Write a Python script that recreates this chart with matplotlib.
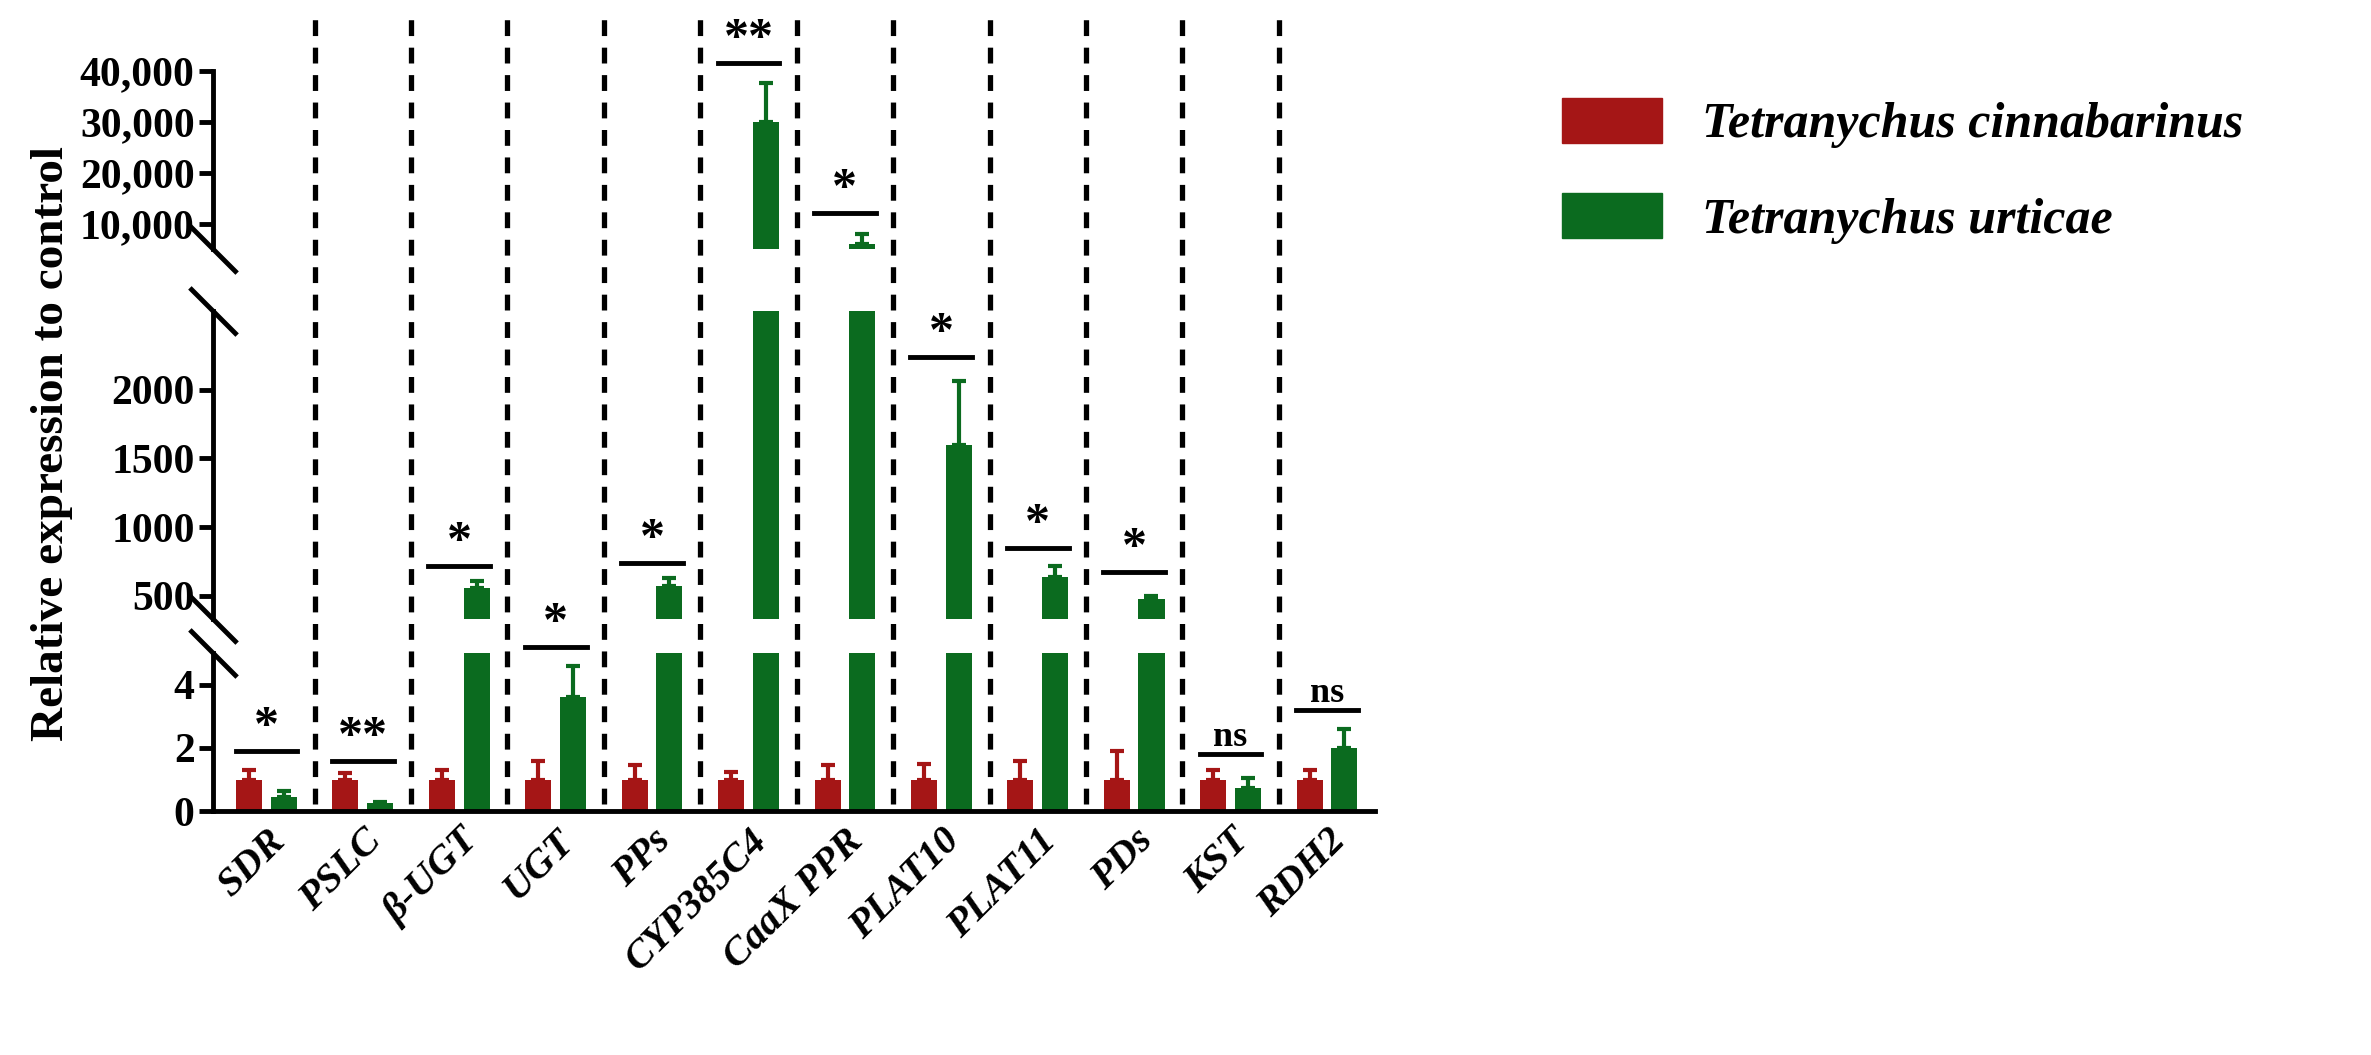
import matplotlib
matplotlib.use("Agg")
import matplotlib.pyplot as plt
import numpy as np
from matplotlib.transforms import blended_transform_factory
from matplotlib.lines import Line2D
from matplotlib.patches import Patch

genes = ["SDR", "PSLC", "β-UGT", "UGT", "PPs", "CYP385C4", "CaaX PPR", "PLAT10", "PLAT11", "PDs", "KST", "RDH2"]
red_vals = [1, 1, 1, 1, 1, 1, 1, 1, 1, 1, 1, 1]
red_err = [0.3, 0.2, 0.3, 0.6, 0.45, 0.25, 0.45, 0.5, 0.6, 0.9, 0.3, 0.3]
green_vals = [0.45, 0.25, 560, 3.6, 570, 30000, 6000, 1600, 640, 480, 0.75, 2.0]
green_err = [0.2, 0.05, 50, 1.0, 60, 7500, 2000, 460, 80, 20, 0.3, 0.6]
# significance: (panel, height, label)
sig = [("b", 1.9, "*"), ("b", 1.6, "**"), ("m", 720, "*"), ("b", 5.2, "*"), ("m", 740, "*"),
       ("t", 41500, "**"), ("t", 12000, "*"), ("m", 2240, "*"), ("m", 850, "*"), ("m", 675, "*"),
       ("b", 1.8, "ns"), ("b", 3.2, "ns")]

RED = "#a51616"
GREEN = "#0b6b1f"
SERIF = ["Liberation Serif", "DejaVu Serif"]
plt.rcParams["font.family"] = SERIF
plt.rcParams["font.weight"] = "bold"

fig = plt.figure(figsize=(23.71, 10.55), dpi=100)
L, W = 0.090, 0.49
axb = fig.add_axes([L, 0.231, W, 0.150])
axm = fig.add_axes([L, 0.413, W, 0.292])
axt = fig.add_axes([L, 0.764, W, 0.169])
axes = {"b": axb, "m": axm, "t": axt}

x = np.arange(1, len(genes) + 1)
off, bw = 0.18, 0.27
for ax in (axb, axm, axt):
    ax.set_facecolor("none")
    ax.bar(x - off, red_vals, bw, color=RED, yerr=[np.zeros(len(x)), red_err],
           error_kw=dict(ecolor=RED, elinewidth=3, capsize=5, capthick=3))
    ax.bar(x + off, green_vals, bw, color=GREEN, yerr=[np.zeros(len(x)), green_err],
           error_kw=dict(ecolor=GREEN, elinewidth=3, capsize=5, capthick=3))
    ax.set_xlim(0.45, len(genes) + 0.5)
    for s in ("top", "right"):
        ax.spines[s].set_visible(False)
    ax.spines["left"].set_linewidth(3.5)
    ax.spines["bottom"].set_linewidth(3.5)
    ax.tick_params(axis="y", width=3.5, length=10)

axb.set_ylim(0, 5)
axb.set_yticks([0, 2, 4])
axm.set_ylim(330, 2570)
axm.set_yticks([500, 1000, 1500, 2000])
axt.set_ylim(5000, 40000)
axt.set_yticks([10000, 20000, 30000, 40000])
axt.set_yticklabels(["10,000", "20,000", "30,000", "40,000"])
for ax in (axm, axt):
    ax.spines["bottom"].set_visible(False)
    ax.set_xticks([])
for ax in (axb, axm, axt):
    for lab in ax.get_yticklabels():
        lab.set_fontweight("bold")
        lab.set_fontsize(30)

axb.set_xticks(x)
axb.set_xticklabels(genes, rotation=45, ha="right", rotation_mode="anchor",
                    fontsize=29, fontstyle="italic", fontweight="bold")
axb.tick_params(axis="x", width=3.5, length=0, pad=8)

# dashed separators
tr = blended_transform_factory(axb.transData, fig.transFigure)
for xs in x[:-1] + 0.5:
    fig.add_artist(Line2D([xs, xs], [0.238, 0.985], transform=tr, color="black",
                          lw=3.8, linestyle=(0, (3, 2.2))))

# break marks ("\" crossing the left spine)
for ax, where in ((axb, 1), (axm, 0), (axm, 1), (axt, 0)):
    ax.plot([0], [where], transform=ax.transAxes, marker=[(-1, 1), (1, -1)],
            markersize=34, mew=3.5, color="black", clip_on=False)

# significance lines
for xi, (p, h, t) in zip(x, sig):
    ax = axes[p]
    ax.plot([xi - 0.32, xi + 0.32], [h, h], color="black", lw=3.5, clip_on=False, zorder=10)
    ax.text(xi, h, t, ha="center", va="bottom", fontsize=36 if t != "ns" else 26,
            fontweight="bold", clip_on=False, zorder=10)

fig.text(0.022, 0.58, "Relative expression to control", rotation=90, ha="center", va="center",
         fontsize=34, fontweight="bold")

handles = [Patch(color=RED), Patch(color=GREEN)]
fig.legend(handles, ["Tetranychus cinnabarinus", "Tetranychus urticae"], loc="upper left",
           bbox_to_anchor=(0.64, 0.95), frameon=False, handlelength=2.0, handleheight=1.0,
           labelspacing=0.9, prop=dict(family=SERIF, style="italic", weight="bold", size=36))

fig.savefig("out.png", dpi=100)
